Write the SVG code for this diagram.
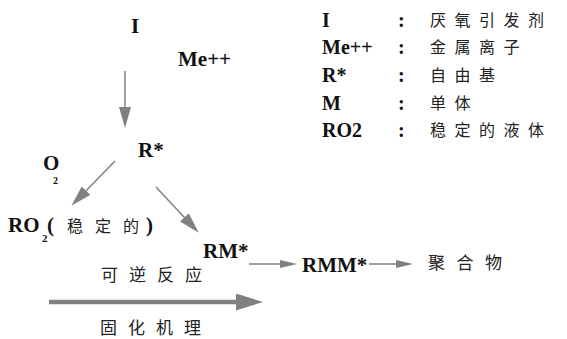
<svg xmlns="http://www.w3.org/2000/svg" width="567" height="339" viewBox="0 0 567 339">
<style>
.lat{font-family:"Liberation Serif","Times New Roman",serif;font-weight:bold;fill:#111;}
.m{font-size:21px;}
.lg{font-size:20px;}
.sub{font-size:11px;}
.cjk{font-family:"Noto Sans CJK SC","Noto Sans CJK JP",sans-serif;font-weight:normal;fill:#222;}
.c16{font-size:16px;letter-spacing:8.5px;}
.c17{font-size:17px;letter-spacing:11px;}
.ln{stroke:#808080;fill:none;}
</style>
<defs>
<marker id="ah" markerUnits="userSpaceOnUse" markerWidth="21" markerHeight="12" viewBox="0 0 21 12" refX="0" refY="6" orient="auto"><path d="M0,0 L21,6 L0,12 z" fill="#808080"/></marker>
<marker id="as" markerUnits="userSpaceOnUse" markerWidth="17" markerHeight="8" viewBox="0 0 17 8" refX="0" refY="4" orient="auto"><path d="M0,0 L17,4 L0,8 z" fill="#808080"/></marker>
<marker id="ab" markerUnits="userSpaceOnUse" markerWidth="27" markerHeight="17" viewBox="0 0 27 17" refX="0" refY="8.5" orient="auto"><path d="M0,0 L27,8.5 L0,17 z" fill="#808080"/></marker>
</defs>
<g id="connectors">
<line class="ln" x1="125" y1="71" x2="125" y2="107" stroke-width="1.5" marker-end="url(#ah)"/>
<line class="ln" x1="115" y1="161" x2="86" y2="190.7" stroke-width="1.5" marker-end="url(#ah)"/>
<line class="ln" x1="156" y1="187" x2="184.4" y2="217.4" stroke-width="1.5" marker-end="url(#ah)"/>
<line class="ln" x1="249" y1="264" x2="280" y2="264" stroke-width="1.5" marker-end="url(#as)"/>
<line class="ln" x1="369" y1="264" x2="396" y2="264" stroke-width="1.5" marker-end="url(#as)"/>
<line class="ln" x1="49" y1="302" x2="236" y2="302" stroke-width="4.5" marker-end="url(#ab)"/>
</g>
<g id="node-I"><text class="lat m" x="131" y="33">I</text></g>
<g id="node-Me"><text class="lat m" x="178" y="66">Me++</text></g>
<g id="node-R"><text class="lat m" x="138" y="157">R*</text></g>
<g id="node-O2"><text class="lat m" x="43" y="170">O<tspan font-size="10" x="53" dy="14">2</tspan></text></g>
<g id="node-RO2"><text class="lat m" x="8" y="232">RO<tspan class="sub" x="42" dy="10">2</tspan><tspan x="47" dy="-10">(</tspan><tspan class="cjk" font-size="16" x="67 95 123">稳定的</tspan><tspan x="146">)</tspan></text></g>
<g id="node-RM"><text class="lat m" x="203" y="258">RM*</text></g>
<g id="node-RMM"><text class="lat m" x="302" y="272">RMM*</text></g>
<g id="node-polymer"><text class="cjk c17" x="428" y="269" style="letter-spacing:11.5px">聚合物</text></g>
<g id="label-reversible"><text class="cjk c17" x="101" y="281">可逆反应</text></g>
<g id="label-cure"><text class="cjk c17" x="100" y="334">固化机理</text></g>
<g id="legend">
<text class="lat lg" x="322" y="27">I</text>
<text class="lat lg" x="322" y="54">Me++</text>
<text class="lat lg" x="322" y="82">R*</text>
<text class="lat lg" x="322" y="110">M</text>
<text class="lat lg" x="322" y="137">RO2</text>
<text class="lat lg" x="398" y="27">:</text>
<text class="lat lg" x="398" y="54">:</text>
<text class="lat lg" x="398" y="82">:</text>
<text class="lat lg" x="398" y="110">:</text>
<text class="lat lg" x="398" y="137">:</text>
<text class="cjk c16" x="430" y="26">厌氧引发剂</text>
<text class="cjk c16" x="430" y="53">金属离子</text>
<text class="cjk c16" x="430" y="81">自由基</text>
<text class="cjk c16" x="430" y="109">单体</text>
<text class="cjk c16" x="430" y="136">稳定的液体</text>
</g>
</svg>
